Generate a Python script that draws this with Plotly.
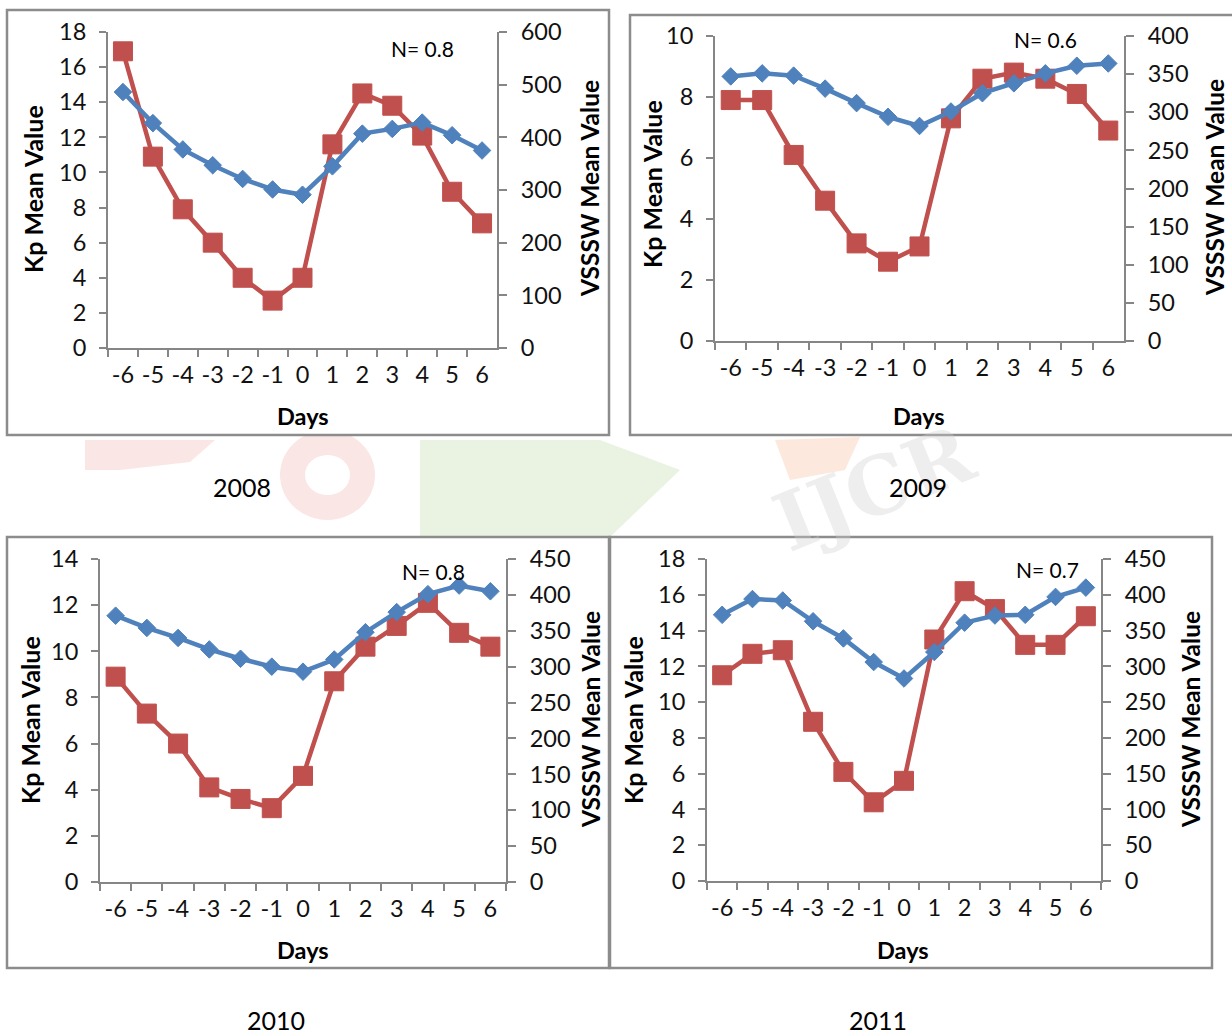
import plotly.graph_objects as go

# ---------------- data ----------------
days = ["-6", "-5", "-4", "-3", "-2", "-1", "0", "1", "2", "3", "4", "5", "6"]

kp_2008 = [16.9, 10.9, 7.9, 6.0, 4.0, 2.7, 4.0, 11.6, 14.5, 13.8, 12.1, 8.9, 7.1]
vsssw_2008 = [486, 427, 377, 347, 321, 301, 291, 345, 407, 416, 428, 404, 375]

kp_2009 = [7.9, 7.9, 6.1, 4.6, 3.2, 2.6, 3.1, 7.3, 8.6, 8.8, 8.6, 8.1, 6.9]
vsssw_2009 = [347, 351, 348, 331, 312, 294, 282, 301, 325, 338, 351, 361, 364]

kp_2010 = [8.9, 7.3, 6.0, 4.1, 3.6, 3.2, 4.6, 8.7, 10.2, 11.1, 12.1, 10.8, 10.2]
vsssw_2010 = [371, 354, 340, 324, 311, 300, 293, 310, 348, 376, 401, 413, 405]

kp_2011 = [11.5, 12.7, 12.9, 8.9, 6.1, 4.4, 5.6, 13.5, 16.2, 15.2, 13.2, 13.2, 14.8]
vsssw_2011 = [372, 394, 392, 363, 339, 306, 283, 320, 361, 371, 372, 397, 410]

years = ["2008", "2009", "2010", "2011"]
n_labels = ["N= 0.8", "N= 0.6", "N= 0.8", "N= 0.7"]
kp_series = [kp_2008, kp_2009, kp_2010, kp_2011]
vsssw_series = [vsssw_2008, vsssw_2009, vsssw_2010, vsssw_2011]
kp_max = [18, 10, 14, 18]
vsssw_max = [600, 400, 450, 450]
vsssw_step = [100, 50, 50, 50]

# ---------------- layout helpers ----------------
W, H = 1232, 1034
FONT = "Lato"
AXC = "#868686"
RED = "#C0504D"
BLUE = "#4F81BD"


def xd(px):
    return px / W


def yd(py):
    return 1 - py / H


panels = [
    dict(px=(108, 497), py=(32, 348), frame=(7, 10, 609, 435),
         kp=(33, 189), vs=(589, 189), days=(303, 416), n=(422, 48), yr=(242, 487)),
    dict(px=(715, 1124), py=(36, 341), frame=(630, 15, 1240, 435),
         kp=(652, 184), vs=(1214, 188), days=(919, 416), n=(1045, 40), yr=(918, 487)),
    dict(px=(100, 506), py=(559, 882), frame=(7, 537, 609, 968),
         kp=(30, 720), vs=(590, 720), days=(303, 950), n=(433, 571), yr=(276, 1020)),
    dict(px=(707, 1101), py=(559, 881), frame=(610, 537, 1212, 968),
         kp=(633, 720), vs=(1190, 720), days=(903, 950), n=(1047, 569), yr=(878, 1020)),
]

fig = go.Figure()
layout = dict(
    width=W, height=H, autosize=False,
    margin=dict(l=0, r=0, t=0, b=0, pad=0, autoexpand=False),
    paper_bgcolor="white", plot_bgcolor="rgba(0,0,0,0)",
    showlegend=False,
    font=dict(family=FONT, size=21, color="#000000"),
)
shapes = []
annotations = []


def path(points):
    return "M " + " L ".join(f"{xd(x)},{yd(y)}" for x, y in points) + " Z"


# faint background watermark between the rows
shapes += [
    dict(type="path", xref="paper", yref="paper", layer="below", line=dict(width=0),
         fillcolor="rgba(247,200,200,0.45)",
         path=path([(85, 440), (215, 440), (190, 462), (120, 470), (85, 470)])),
    dict(type="circle", xref="paper", yref="paper", layer="below", line=dict(width=0),
         fillcolor="rgba(247,200,200,0.45)",
         x0=xd(280), x1=xd(375), y0=yd(520), y1=yd(430)),
    dict(type="circle", xref="paper", yref="paper", layer="below", line=dict(width=0),
         fillcolor="white",
         x0=xd(305), x1=xd(350), y0=yd(495), y1=yd(455)),
    dict(type="path", xref="paper", yref="paper", layer="below", line=dict(width=0),
         fillcolor="rgba(214,232,198,0.5)",
         path=path([(420, 440), (600, 440), (680, 470), (610, 537), (420, 537)])),
    dict(type="path", xref="paper", yref="paper", layer="below", line=dict(width=0),
         fillcolor="rgba(250,205,180,0.45)",
         path=path([(775, 440), (860, 437), (845, 470), (790, 480)])),
]
annotations.append(dict(
    text="<b>IJCR</b>", x=xd(990), y=yd(488), xref="paper", yref="paper",
    showarrow=False, textangle=-22,
    font=dict(family="DejaVu Serif", size=80, color="rgba(205,205,205,0.35)")))

for i, p in enumerate(panels):
    k = i + 1
    xname = "x" if k == 1 else f"x{k}"
    yl = 2 * k - 1
    yr_ = 2 * k
    ylname = "y" if yl == 1 else f"y{yl}"
    yrname = f"y{yr_}"

    fx0, fy0, fx1, fy1 = p["frame"]
    shapes.append(dict(type="rect", xref="paper", yref="paper",
                       x0=xd(fx0), x1=xd(fx1), y0=yd(fy1), y1=yd(fy0),
                       line=dict(color="#8C8C8C", width=2.5), fillcolor="white",
                       layer="below"))

    xdom = [xd(p["px"][0]), xd(p["px"][1])]
    ydom = [yd(p["py"][1]), yd(p["py"][0])]

    common = dict(showline=True, linecolor=AXC, linewidth=2, showgrid=False,
                  zeroline=False, automargin=False, fixedrange=True,
                  tickfont=dict(family=FONT, size=23.5, color="#111"),
                  ticks="outside", tickwidth=1.5, tickcolor=AXC)

    layout["xaxis" if k == 1 else f"xaxis{k}"] = dict(
        domain=xdom, anchor=ylname, type="category",
        categoryorder="array", categoryarray=days,
        range=[-0.5, len(days) - 0.5], tickson="boundaries",
        ticklen=7, tickangle=0, ticklabelstandoff=5, **common)
    layout["yaxis" if yl == 1 else f"yaxis{yl}"] = dict(
        domain=ydom, anchor=xname, side="left",
        range=[0, kp_max[i]], dtick=2, tick0=0,
        ticklen=7, ticklabelstandoff=8, **common)
    layout[f"yaxis{yr_}"] = dict(
        overlaying=ylname, anchor=xname, side="right",
        range=[0, vsssw_max[i]], dtick=vsssw_step[i], tick0=0,
        ticklen=8, ticklabelstandoff=9, **common)

    fig.add_trace(go.Scatter(
        x=days, y=kp_series[i], xaxis=xname, yaxis=ylname, mode="lines+markers",
        line=dict(color=RED, width=4.5),
        marker=dict(symbol="square", size=19, color=RED, line=dict(color=RED, width=1)),
        name="Kp", cliponaxis=False))
    fig.add_trace(go.Scatter(
        x=days, y=vsssw_series[i], xaxis=xname, yaxis=yrname, mode="lines+markers",
        line=dict(color=BLUE, width=4.5),
        marker=dict(symbol="diamond", size=13.5, color=BLUE, line=dict(color=BLUE, width=1)),
        name="VSSSW", cliponaxis=False))

    def ann(text, pos, size, bold=False, angle=0):
        annotations.append(dict(
            text=f"<b>{text}</b>" if bold else text,
            x=xd(pos[0]), y=yd(pos[1]), xref="paper", yref="paper",
            showarrow=False, textangle=angle, xanchor="center", yanchor="middle",
            font=dict(family=FONT, size=size, color="#000")))

    ann("Kp Mean Value", p["kp"], 25, bold=True, angle=-90)
    ann("VSSSW Mean Value", p["vs"], 24.5, bold=True, angle=-90)
    ann("Days", p["days"], 23.5, bold=True)
    ann(n_labels[i], p["n"], 21)
    ann(years[i], p["yr"], 25)

layout["shapes"] = shapes
layout["annotations"] = annotations
fig.update_layout(**layout)
fig.write_html(
    "out.html",
    config={"displayModeBar": False, "responsive": False},
    post_script="document.body.style.margin='0';document.body.style.overflow='hidden';",
)
